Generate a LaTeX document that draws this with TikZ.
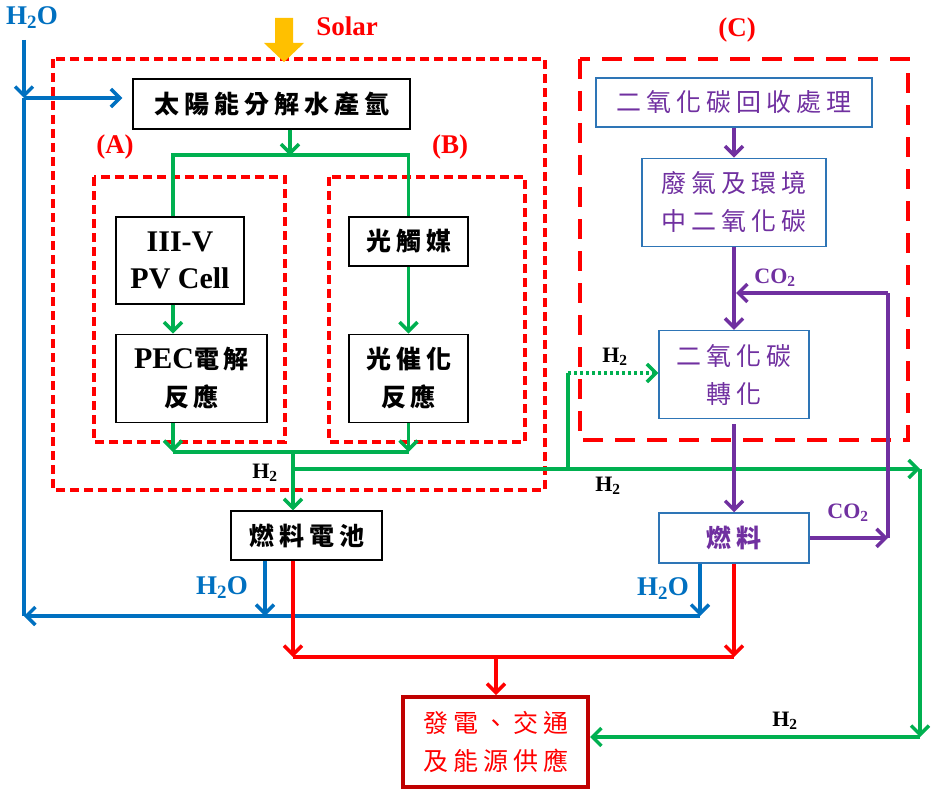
\documentclass[tikz,border=0pt]{standalone}
\usepackage{fontspec}
\setmainfont{Liberation Serif}
\newfontfamily\cjk[LetterSpace=20]{Noto Sans CJK TC}
\usetikzlibrary{arrows.meta, positioning}

\definecolor{hgreen}{HTML}{00B050}
\definecolor{hblue}{HTML}{0070C0}
\definecolor{hpurple}{HTML}{7030A0}
\definecolor{hred}{HTML}{FF0000}
\definecolor{hdark}{HTML}{C00000}
\definecolor{hsolar}{HTML}{FFC000}
\definecolor{hframe}{HTML}{2E75B6}

\newcommand\boxfont{\cjk\fontsize{25}{38}\selectfont}
\newcommand\latfont{\rmfamily\bfseries\fontsize{30}{37}\selectfont}

\begin{document}
\begin{tikzpicture}[
  x=1pt, y=-1pt,
  box/.style={draw, line width=1.3, inner sep=0pt, align=center, font=\boxfont\bfseries},
  cbox/.style={box, draw=hframe, text=hpurple, font=\boxfont},
  lab/.style={inner sep=0pt, font=\bfseries\fontsize{22}{22}\selectfont},
  big/.style={lab, font=\bfseries\fontsize{27}{27}\selectfont},
  tip/.style={-{Straight Barb[length=9pt, width=18pt]}},
  gline/.style={hgreen, line width=3.5},
  garr/.style={gline, tip},
  bline/.style={hblue, line width=3.5},
  barr/.style={bline, tip},
  rline/.style={hred, line width=3.5},
  rarr/.style={rline, tip},
  pline/.style={hpurple, line width=3.5},
  parr/.style={pline, tip},
  frame/.style={hred, line width=3.5, dash pattern=on 9pt off 5pt},
  bigframe/.style={hred, line width=4.5, dash pattern=on 20pt off 12pt}
]
  \useasboundingbox (0,0) rectangle (940,797);

  % frames
  \draw[frame] (53,59) rectangle (545,490);
  \draw[frame] (94,177) rectangle (285,442);
  \draw[frame] (329,177) rectangle (525,442);
  \draw[bigframe] (580,59) rectangle (908,440);

  % solar input
  \fill[hsolar] (275,18) -- (293,18) -- (293,43) -- (304,43) -- (284,62)
    -- (264,43) -- (275,43) -- cycle;

  % boxes
  \node[box, minimum width=277, minimum height=50] (Split) at (271.5,104) {太陽能分解水產氫};
  \node[box, minimum width=128, minimum height=87, font=\latfont] (PV) at (180,260.5) {III-V\\PV Cell};
  \node[box, minimum width=151, minimum height=88, below=29pt of PV.south west, anchor=north west] (PEC)
    {{\latfont PEC}電解\\反應};
  \node[box, minimum width=119, minimum height=49] (Cat) at (408.5,241.5) {光觸媒};
  \node[box, minimum width=119, minimum height=88, below=67pt of Cat] (Photo) {光催化\\反應};
  \node[box, minimum width=151, minimum height=49] (FC) at (306.5,535.5) {燃料電池};

  \node[cbox, minimum width=276, minimum height=49] (Rec) at (734,102.5) {二氧化碳回收處理};
  \node[cbox, minimum width=184, minimum height=88, below=30pt of Rec] (Waste) {廢氣及環境\\中二氧化碳};
  \node[cbox, minimum width=150, minimum height=88, below=83pt of Waste] (Conv) {二氧化碳\\轉化};
  \node[cbox, minimum width=150, minimum height=50, below=93pt of Conv, font=\boxfont\bfseries] (Fuel) {燃料};

  \node[box, draw=hdark, line width=4, text=hred, font=\boxfont, minimum width=185, minimum height=90] (Use)
    at (495.5,742) {發電、交通\\及能源供應};

  % labels
  \node[big, hblue] (lWater) at (32,18) {H\textsubscript{2}O};
  \node[big, hred] (lSolar) at (347,26) {Solar};
  \node[big, hred] (lA) at (115,147) {(A)};
  \node[big, hred] (lB) at (450,147) {(B)};
  \node[big, hred] (lC) at (737,30) {(C)};
  \node[lab] (lH1) at (265,473) {H\textsubscript{2}};
  \node[lab] (lH2) at (615,357) {H\textsubscript{2}};
  \node[lab] (lH3) at (608,486) {H\textsubscript{2}};
  \node[lab] (lH4) at (785,721) {H\textsubscript{2}};
  \node[lab, hpurple] (lC1) at (775,278) {CO\textsubscript{2}};
  \node[lab, hpurple] (lC2) at (848,513) {CO\textsubscript{2}};
  \node[big, hblue] (lW1) at (222,588) {H\textsubscript{2}O};
  \node[big, hblue] (lW2) at (663,589) {H\textsubscript{2}O};

  % hydrogen from the two routes
  \coordinate (gL) at (173,155);
  \coordinate (gR) at (408.5,155);
  \coordinate (hL) at (173,452);
  \coordinate (hR) at (408.5,452);
  \coordinate (hM) at (293,452);
  \draw[garr] ([xshift=18.5]Split.south) -- ++(0,26);
  \draw[gline] (PV.north -| gL) -- (gL) -- (gR) -- (Cat.north);
  \draw[garr] (PV.south -| gL) -- (PEC.north -| gL);
  \draw[garr] (Cat) -- (Photo);
  \draw[garr] (PEC.south -| hL) -- (hL);
  \draw[garr] (Photo.south) -- (hR);
  \draw[gline] (hL) -- (hR);
  \draw[garr] (hM) -- (FC.north -| hM);

  % hydrogen branch
  \coordinate (bM) at (293,469);
  \coordinate (bC) at (568,469);
  \coordinate (bR) at (920,469);
  \coordinate (dC) at (568,373);
  \coordinate (dR) at (920,737);
  \draw[garr] (bM) -- (bR);
  \draw[garr] (bR) -- (dR);
  \draw[garr] (dR) -- (Use.east |- dR);
  \draw[gline] (bC) -- (dC);
  \draw[garr, dash pattern=on 3pt off 3pt] (dC) -- (Conv.west |- dC);

  % water
  \coordinate (wTop) at (24,40);
  \coordinate (wJ) at (24,98);
  \coordinate (wB) at (24,616);
  \coordinate (w1) at (265,616);
  \coordinate (w2) at (700,616);
  \draw[barr] (wTop) -- (wJ);
  \draw[barr, shorten >=10pt] (wJ) -- (Split.west |- wJ);
  \draw[bline] (wB) -- (wJ);
  \draw[barr] (FC.south -| w1) -- (w1);
  \draw[barr] (Fuel.south -| w2) -- (w2);
  \draw[barr] (w2) -- (wB);

  % power
  \coordinate (r1) at (293,657);
  \coordinate (r2) at (734,657);
  \coordinate (r3) at (496,657);
  \draw[rarr] (FC.south -| r1) -- (r1);
  \draw[rarr] (Fuel.south) -- (r2);
  \draw[rline] (r1) -- (r2);
  \draw[rarr] (r3) -- (Use.north -| r3);

  % carbon
  \coordinate (c1) at (888,534);
  \coordinate (c2) at (888,293);
  \coordinate (c3) at (736,293);
  \draw[parr] (Rec) -- (Waste);
  \draw[parr] (Waste) -- (Conv);
  \draw[parr, shorten <=5pt] (Conv) -- (Fuel);
  \draw[parr] (Fuel.east) -- (c1 |- Fuel.east);
  \draw[pline] (c1 |- Fuel.east) -- (c2);
  \draw[parr] (c2) -- (c3);
\end{tikzpicture}
\end{document}
